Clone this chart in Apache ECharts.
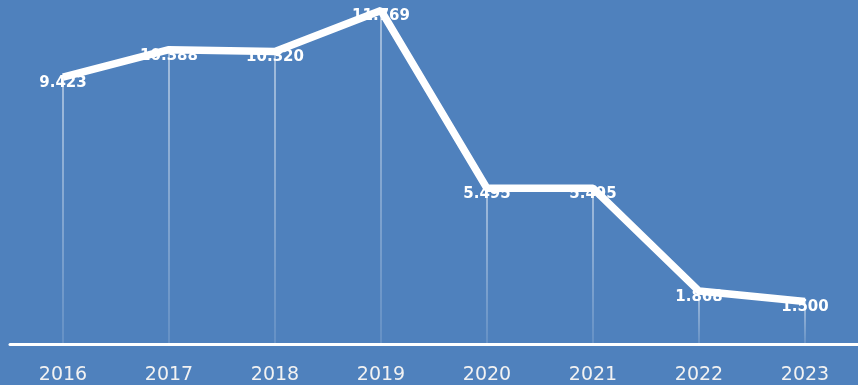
<!DOCTYPE html>
<html>
<head>
<meta charset="utf-8">
<script src="https://cdn.jsdelivr.net/npm/echarts@6/dist/echarts.min.js"></script>
<style>
html,body{margin:0;padding:0;background:#4f81bd;}
#c{width:858px;height:385px;}
</style>
</head>
<body>
<div id="c"></div>
<script>
const categories = ['2016','2017','2018','2019','2020','2021','2022','2023'];
const values = [9.423, 10.388, 10.320, 11.769, 5.495, 5.495, 1.868, 1.500];
const valueLabels = ['9.423','10.388','10.320','11.769','5.495','5.495','1.868','1.500'];

const chart = echarts.init(document.getElementById('c'), null, {renderer:'canvas'});
chart.setOption({
  backgroundColor: '#4f81bd',
  animation: false,
  grid: {left: 10, right: 0, top: 4, bottom: 41},
  xAxis: {
    type: 'category',
    data: categories,
    boundaryGap: true,
    axisLine: {lineStyle: {color: '#ffffff', width: 3}},
    axisTick: {show: false},
    axisLabel: {color: '#f2f2f2', fontFamily: 'DejaVu Sans', fontSize: 19, margin: 22}
  },
  yAxis: {
    type: 'value', min: 0, max: 12,
    show: false,
    splitLine: {show: false}
  },
  series: [
    {
      type: 'bar',
      data: values,
      barWidth: 1,
      silent: true,
      z: 1,
      itemStyle: {
        color: new echarts.graphic.LinearGradient(0, 0, 0, 1, [
          {offset: 0, color: 'rgba(255,255,255,0.95)'},
          {offset: 1, color: 'rgba(255,255,255,0.25)'}
        ])
      }
    },
    {
      type: 'scatter',
      data: values,
      z: 2,
      symbolSize: 1,
      itemStyle: {color: 'rgba(255,255,255,0)', opacity: 1},
      label: {
        show: true,
        position: 'inside',
        offset: [0, 6],
        color: '#ffffff',
        opacity: 1,
        textBorderWidth: 0,
        fontFamily: 'DejaVu Sans',
        fontWeight: 'bold',
        fontSize: 15,
        formatter: p => valueLabels[p.dataIndex]
      }
    },
    {
      type: 'line',
      data: values,
      z: 5,
      zlevel: 1,
      symbol: 'none',
      lineStyle: {color: '#ffffff', width: 7.5}
    }
  ]
});
</script>
</body>
</html>
